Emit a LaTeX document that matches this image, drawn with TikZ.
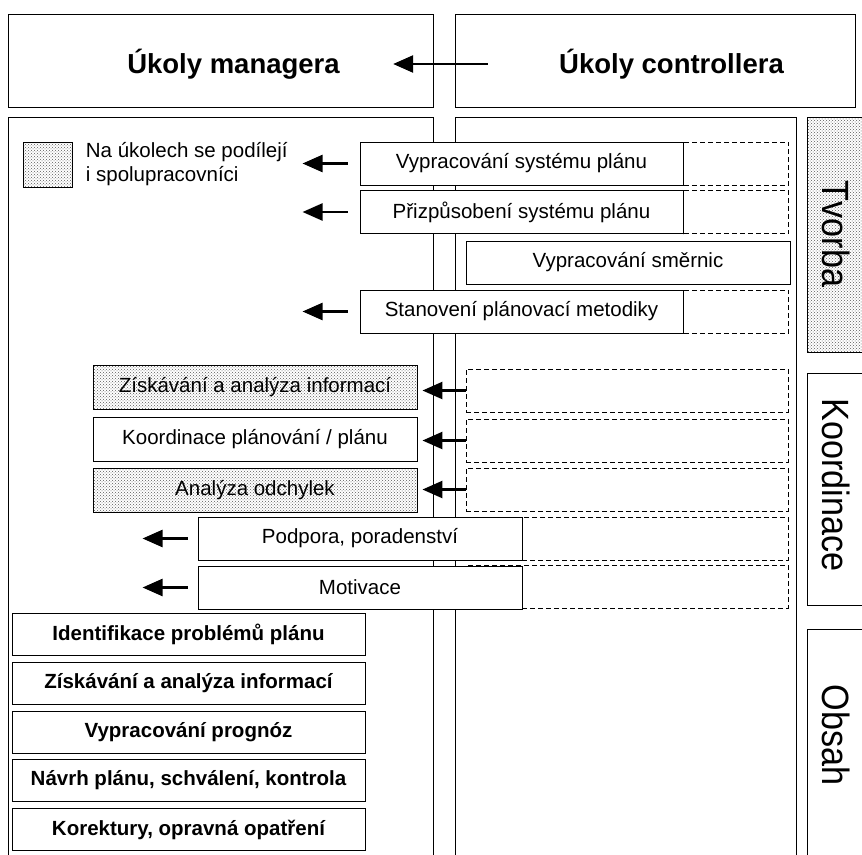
\documentclass[tikz,border=0pt]{standalone}
\usepackage{fontspec}
\setmainfont{Liberation Sans}
\usetikzlibrary{arrows.meta,positioning,patterns}
\tikzset{
	box/.style={draw,rectangle,align=center,fill=white,inner sep=0pt,minimum height=43pt,font=\fontsize{20.5}{24}\selectfont},
	ctrlbox/.style={box,minimum width=323pt},
	mgrbox/.style={box,minimum width=324pt,minimum height=44pt},
	contentbox/.style={box,minimum width=353pt,minimum height=42pt,font=\fontsize{20.5}{24}\selectfont\bfseries},
	dashbox/.style={draw,rectangle,dash pattern=on 5pt off 3pt,minimum height=43pt,inner sep=0pt},
	shared/.style={pattern=crosshatch dots,pattern color=black!65},
	title/.style={inner sep=0pt,font=\fontsize{27.5}{30}\selectfont\bfseries},
	phase/.style={rotate=-90,inner sep=0pt,font=\fontsize{38}{40}\selectfont},
	arr/.style={-{Triangle[length=20pt,width=17pt]},line width=2.5pt}
}
\begin{document}
\begin{tikzpicture}[x=1pt,y=-1pt,line width=0.9pt]
	\useasboundingbox (0,0) rectangle (862,854);
	\draw (8,14) rectangle (433,107);
	\draw (455,14) rectangle (855,107);
	\draw (8,117) rectangle (433,880);
	\draw (455,117) rectangle (796,880);
	\draw[shared] (807,117) rectangle (890,352);
	\draw (807,373) rectangle (890,605);
	\draw (807,629) rectangle (890,880);
	\node[title] (mgr) at (233.5,64) {Úkoly managera};
	\node[title] (ctrl) at (671.5,64) {Úkoly controllera};
	\draw[arr] ([xshift=-71pt]ctrl.west) -- ([xshift=53pt]mgr.east);
	\node[phase] (tvorba) at (836,234) {\scalebox{.9}[1]{Tvorba}};
	\node[phase] (koord) at (836,485) {\scalebox{.9}[1]{Koordinace}};
	\node[phase] (obsah) at (836,735) {\scalebox{.9}[1]{Obsah}};
	\node[draw,shared,minimum width=49pt,minimum height=45pt] (key) at (47.5,164.5) {};
	\node[right=13pt of key,inner sep=0pt,align=left,font=\fontsize{20.5}{24}\selectfont] (keytext) {Na úkolech se podílejí\\i spolupracovníci};
	\node[ctrlbox] (vsp) at (521.5,163.5) {Vypracování systému plánu};
	\node[ctrlbox] (psp) at (521.5,212) {Přizpůsobení systému plánu};
	\node[box,minimum width=324pt] (vsm) at (628,262.5) {Vypracování směrnic};
	\node[ctrlbox] (spm) at (521.5,311.5) {Stanovení plánovací metodiky};
	\node[dashbox,minimum width=105pt,right=0pt of vsp] (vspd) {};
	\node[dashbox,minimum width=105pt,right=0pt of psp] (pspd) {};
	\node[dashbox,minimum width=105pt,right=0pt of spm] (spmd) {};
	\draw[arr] ([xshift=-12pt]vsp.west) -- ([xshift=-57pt]vsp.west);
	\draw[arr] ([xshift=-12pt]psp.west) -- ([xshift=-57pt]psp.west);
	\draw[arr] ([xshift=-12pt]spm.west) -- ([xshift=-57pt]spm.west);
	\node[dashbox,minimum width=322pt] (d1) at (627,390.5) {};
	\node[dashbox,minimum width=322pt] (d2) at (627,440.5) {};
	\node[dashbox,minimum width=322pt] (d3) at (627,489.5) {};
	\node[dashbox,minimum width=322pt] (d4) at (627,538.5) {};
	\node[dashbox,minimum width=322pt] (d5) at (627,586.5) {};
	\node[mgrbox,shared] (zai) at (255,387.5) {Získávání a analýza informací};
	\node[mgrbox] (kpp) at (255,439) {Koordinace plánování / plánu};
	\node[mgrbox,shared] (aod) at (255,490) {Analýza odchylek};
	\draw[arr] (d1.west) -- ([xshift=5pt]d1.west -| zai.east);
	\draw[arr] (d2.west) -- ([xshift=5pt]d2.west -| kpp.east);
	\draw[arr] (d3.west) -- ([xshift=5pt]d3.west -| aod.east);
	\node[box,minimum width=324pt] (ppo) at (360,538.5) {Podpora, poradenství};
	\node[box,minimum width=324pt] (mot) at (360,587.5) {Motivace};
	\draw[arr] ([xshift=-10pt]ppo.west) -- ([xshift=-55pt]ppo.west);
	\draw[arr] ([xshift=-10pt]mot.west) -- ([xshift=-55pt]mot.west);
	\node[contentbox] (ipp) at (188.5,634) {Identifikace problémů plánu};
	\node[contentbox] (zai2) at (188.5,683) {Získávání a analýza informací};
	\node[contentbox] (vpr) at (188.5,732) {Vypracování prognóz};
	\node[contentbox] (npl) at (188.5,780.5) {Návrh plánu, schválení, kontrola};
	\node[contentbox] (kor) at (188.5,829.5) {Korektury, opravná opatření};
\end{tikzpicture}
\end{document}
